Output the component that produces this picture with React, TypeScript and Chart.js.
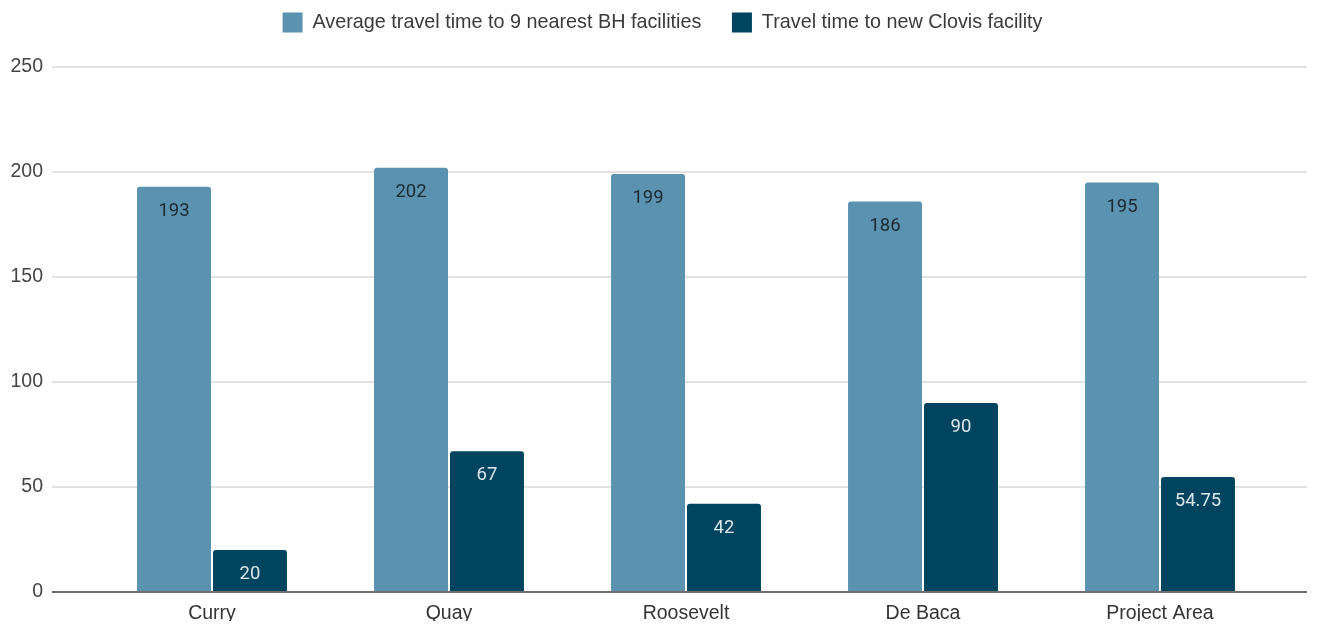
import React, { useEffect, useRef } from "react";
import { Chart, registerables } from "chart.js";

Chart.register(...registerables);

const categories = ["Curry", "Quay", "Roosevelt", "De Baca", "Project Area"];
const avgNearestValues = [193, 202, 199, 186, 195];
const clovisValues = [20, 67, 42, 90, 54.75];
const seriesNames = [
  "Average travel time to 9 nearest BH facilities",
  "Travel time to new Clovis facility",
];
const yTicks = [0, 50, 100, 150, 200, 250];

const LIGHT = "#5b92b0";
const DARK = "#00445f";
const AXIS_FONT = "'Liberation Sans', Arial, sans-serif";

const CANVAS_W = 1307;
const CANVAS_H = 613;
const LEGEND_PAD = 30.6;

// Horizontal grid lines run a little past the plot on both sides,
// and the zero line is drawn on top of the bars.
const gridPlugin = {
  id: "wideGrid",
  beforeDatasetsDraw(chart: any) {
    const { ctx } = chart;
    const y = chart.scales.y;
    ctx.save();
    ctx.strokeStyle = "#d9d9d9";
    ctx.lineWidth = 1.5;
    yTicks.forEach((v) => {
      if (v === 0) return;
      const py = y.getPixelForValue(v);
      ctx.beginPath();
      ctx.moveTo(44, py);
      ctx.lineTo(1299, py);
      ctx.stroke();
    });
    ctx.restore();
  },
  afterDatasetsDraw(chart: any) {
    const { ctx } = chart;
    const py = chart.scales.y.getPixelForValue(0);
    ctx.save();
    ctx.strokeStyle = "#6f6f6f";
    ctx.lineWidth = 2;
    ctx.beginPath();
    ctx.moveTo(44, py);
    ctx.lineTo(1299, py);
    ctx.stroke();
    ctx.restore();
  },
};

// Value labels just inside the top of each bar.
const valueLabelPlugin = {
  id: "valueLabels",
  afterDatasetsDraw(chart: any) {
    const { ctx } = chart;
    const colors = ["#1e2a31", "#dde6eb"];
    ctx.save();
    ctx.font = "18.5px Roboto, sans-serif";
    ctx.textAlign = "center";
    ctx.textBaseline = "middle";
    chart.data.datasets.forEach((ds: any, di: number) => {
      const meta = chart.getDatasetMeta(di);
      ctx.fillStyle = colors[di];
      meta.data.forEach((bar: any, i: number) => {
        ctx.fillText(String(ds.data[i]), bar.x, bar.y + 24.5);
      });
    });
    ctx.restore();
  },
};

// Legend sits at the very top with a taller reserved band beneath it.
const legendSpacing = {
  id: "legendSpacing",
  beforeInit(chart: any) {
    const legend = chart.legend;
    if (!legend) return;
    const fit = legend.fit;
    legend.fit = function () {
      fit.call(legend);
      legend.height = 59;
    };
  },
  afterLayout(chart: any) {
    const legend = chart.legend;
    if (!legend) return;
    const shiftUp = LEGEND_PAD - 4.5;
    legend.top -= shiftUp;
    legend.bottom -= shiftUp;
    legend.left += 19.3;
    legend.right += 19.3;
  },
};

export default function App() {
  const canvasRef = useRef<HTMLCanvasElement | null>(null);

  useEffect(() => {
    if (!canvasRef.current) return;
    const chart = new Chart(canvasRef.current, {
      type: "bar",
      data: {
        labels: categories,
        datasets: [
          {
            label: seriesNames[0],
            data: avgNearestValues,
            backgroundColor: LIGHT,
            borderRadius: 3,
            categoryPercentage: 0.641,
            barPercentage: 0.974,
          },
          {
            label: seriesNames[1],
            data: clovisValues,
            backgroundColor: DARK,
            borderRadius: 3,
            categoryPercentage: 0.641,
            barPercentage: 0.974,
          },
        ],
      },
      options: {
        animation: false,
        responsive: false,
        events: [],
        layout: { padding: { left: 0, right: 36.5, top: 0, bottom: 0 } },
        plugins: {
          tooltip: { enabled: false },
          legend: {
            position: "top",
            labels: {
              boxWidth: 20,
              boxHeight: 20,
              padding: LEGEND_PAD,
              color: "#3a3a3a",
              font: { family: AXIS_FONT, size: 19.8 },
            },
          },
        },
        scales: {
          x: {
            grid: { display: false, drawTicks: false },
            border: { display: false },
            ticks: {
              color: "#333333",
              padding: 10,
              font: { family: AXIS_FONT, size: 19.5 },
            },
            afterFit(scale: any) {
              scale.height = 29;
            },
          },
          y: {
            min: 0,
            max: 250,
            grid: {
              display: true,
              color: "rgba(0,0,0,0)",
              drawOnChartArea: false,
              drawTicks: true,
              tickLength: 42.5,
            },
            border: { display: false },
            ticks: {
              stepSize: 50,
              color: "#444444",
              padding: 8,
              font: { family: AXIS_FONT, size: 19.5 },
            },
            afterFit(scale: any) {
              scale.width = 85.5;
            },
          },
        },
      },
      plugins: [gridPlugin, valueLabelPlugin, legendSpacing],
    });
    return () => chart.destroy();
  }, []);

  return (
    <div style={{ width: CANVAS_W, height: CANVAS_H }}>
      <canvas
        ref={canvasRef}
        width={CANVAS_W}
        height={CANVAS_H}
        style={{ display: "block", width: CANVAS_W, height: CANVAS_H }}
      />
    </div>
  );
}
